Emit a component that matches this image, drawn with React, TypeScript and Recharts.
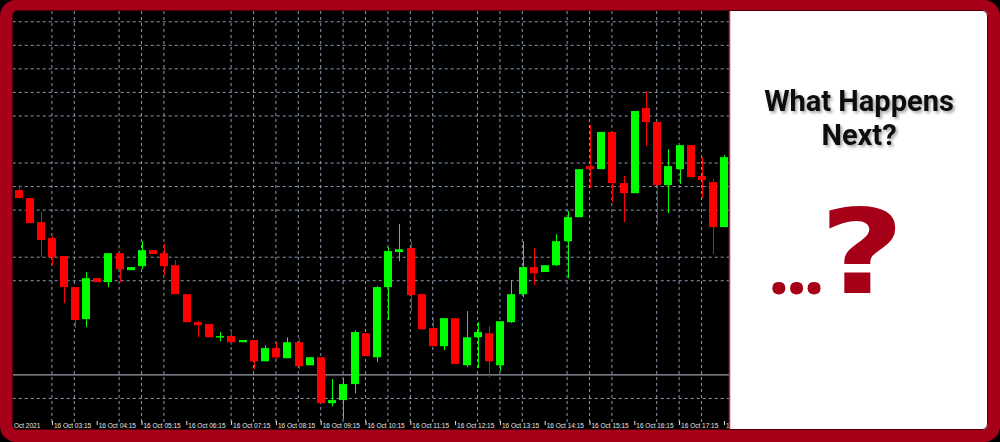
import React from 'react';
import { ComposedChart, Bar, XAxis, YAxis, ReferenceLine } from 'recharts';

const times = [
  '02:30','02:45','03:00','03:15','03:30','03:45','04:00','04:15','04:30','04:45',
  '05:00','05:15','05:30','05:45','06:00','06:15','06:30','06:45','07:00','07:15',
  '07:30','07:45','08:00','08:15','08:30','08:45','09:00','09:15','09:30','09:45',
  '10:00','10:15','10:30','10:45','11:00','11:15','11:30','11:45','12:00','12:15',
  '12:30','12:45','13:00','13:15','13:30','13:45','14:00','14:15','14:30','14:45',
  '15:00','15:15','15:30','15:45','16:00','16:15','16:30','16:45','17:00','17:15',
  '17:30','17:45','18:00','18:15',
];

const openPrices = [
  61885,61851,61749,61681,61605,61473,61337,61511,61494,61617,
  61545,61562,61630,61617,61566,61443,61324,61316,61262,61265,
  61239,61248,61158,61214,61171,61239,61141,61175,60980,60993,
  61061,61277,61175,61473,61622,61639,61443,61299,61222,61341,
  61141,61260,61277,61141,61324,61443,61558,61537,61566,61668,
  61770,61987,61974,62132,61915,61872,62234,62174,61906,61974,
  62076,61945,61919,61728,
];
const highPrices = [
  61906,61851,61792,61690,61605,61473,61537,61511,61617,61617,
  61558,61668,61630,61656,61588,61443,61328,61316,61282,61294,
  61248,61248,61226,61239,61260,61256,61175,61175,61082,61086,
  61290,61277,61477,61643,61741,61668,61443,61341,61341,61341,
  61371,61324,61307,61328,61503,61668,61639,61566,61698,61796,
  61974,62161,62132,62132,61945,62221,62306,62174,62059,62076,
  62076,62025,61932,62034,
];
const lowPrices = [
  61851,61745,61600,61566,61405,61299,61303,61494,61473,61494,
  61545,61549,61613,61524,61443,61324,61260,61260,61243,61226,
  61239,61124,61158,61167,61171,61124,61141,60980,60967,60912,
  61022,61180,61154,61333,61583,61371,61294,61222,61205,61146,
  61133,61129,61090,61116,61320,61430,61481,61537,61562,61511,
  61770,61894,61974,61834,61749,61872,62072,61732,61787,61911,
  61940,61851,61613,61728,
];
const closePrices = [
  61851,61745,61673,61600,61473,61333,61511,61494,61617,61549,
  61558,61630,61613,61562,61443,61324,61311,61260,61265,61239,
  61248,61158,61214,61175,61239,61137,61175,60980,60993,61061,
  61282,61180,61473,61626,61634,61439,61294,61222,61341,61146,
  61260,61282,61158,61328,61443,61558,61532,61566,61668,61770,
  61974,61974,62132,61915,61872,62221,62174,61906,61987,62076,
  61940,61928,61728,62025,
];

// x-axis labels (time -> text)
const firstLabelTime = '02:30';
const firstLabelText = '16 Oct 2021';
const labelTimes = [
  '03:15','04:15','05:15','06:15','07:15','08:15','09:15','10:15',
  '11:15','12:15','13:15','14:15','15:15','16:15','17:15','18:15',
];
const labelDay = '16 Oct';

// grid levels
const priceGridLevels = [62600, 62500, 62400, 62300, 62200, 62000, 61900, 61800, 61600, 61500, 61000];
const timeGridTimes = [
  '03:15','03:45','04:45','05:15','05:45','07:15','07:45','08:15','08:45','09:15',
  '09:45','10:15','10:45','11:15','11:45','12:45','13:15','13:45','14:45','15:15',
  '15:45','16:45','17:15','17:45',
];
const supportLevel = 61100;
const yDomain = [60900, 62650];

const titleLines = ['What Happens', 'Next?'];
const dotsText = '...';
const questionText = '?';

const data = times.map((t, i) => ({
  time: t,
  open: openPrices[i],
  high: highPrices[i],
  low: lowPrices[i],
  close: closePrices[i],
}));

const UP = '#00ff00';
const DOWN = '#ff0000';
const GRID = '#8a9bb0';
const FRAME = '#a50018';

const Candle = (props: any) => {
  const { x, y, width, height, payload } = props;
  if (!payload) return null;
  const { open, close, high, low } = payload;
  const top = Math.min(y, y + height);
  const h = Math.abs(height);
  const pix = (v: number) => (high === low ? top : top + ((high - v) / (high - low)) * h);
  const up = close >= open;
  const color = up ? UP : DOWN;
  const bx = Math.round(x);
  const bw = Math.round(width);
  const cx = bx + Math.floor(bw / 2) + 0.5;
  const bTop = pix(Math.max(open, close));
  const bBot = pix(Math.min(open, close));
  return (
    <g>
      <line x1={cx} x2={cx} y1={top} y2={top + h} stroke={color} strokeWidth={1} />
      <rect x={bx} y={bTop} width={bw} height={Math.max(bBot - bTop, 1.5)} fill={color} />
    </g>
  );
};

const TimeTick = (props: any) => {
  const { x, y, payload } = props;
  const v = payload?.value;
  if (v === firstLabelTime) {
    return (
      <text x={x + 22} y={y + 6} textAnchor="end" fontSize={6.5} fill="#e8e8e8"
        fontFamily="'Liberation Sans', Arial, sans-serif">{firstLabelText}</text>
    );
  }
  if (!labelTimes.includes(v)) return null;
  return (
    <g>
      <line x1={x + 0.5} x2={x + 0.5} y1={y - 1} y2={y + 3} stroke="#e8e8e8" strokeWidth={1} />
      <text x={x + 2} y={y + 6} textAnchor="start" fontSize={6.5} fill="#e8e8e8"
        fontFamily="'Liberation Sans', Arial, sans-serif">{`${labelDay} ${v}`}</text>
    </g>
  );
};

export default function App() {
  return (
    <div style={{ position: 'absolute', left: 0, top: 0, width: 1000, height: 442, background: '#000', overflow: 'hidden' }}>
      <ComposedChart
        width={1000}
        height={442}
        data={data}
        margin={{ top: 10, right: 270.5, bottom: 8, left: 12.7 }}
      >
        <XAxis
          dataKey="time"
          interval={0}
          tickLine={false}
          axisLine={false}
          height={12}
          tickSize={0}
          tickMargin={0}
          tick={<TimeTick />}
        />
        <YAxis hide width={0} domain={yDomain} allowDataOverflow type="number" />
        {priceGridLevels.map((v) => (
          <ReferenceLine key={`h${v}`} y={v} stroke={GRID} strokeDasharray="3 3" strokeWidth={1} zIndex={-50} />
        ))}
        {timeGridTimes.map((t) => (
          <ReferenceLine key={`v${t}`} x={t} stroke={GRID} strokeDasharray="3 3" strokeWidth={1} zIndex={-50} />
        ))}
        <ReferenceLine y={supportLevel} stroke="#9aa0a8" strokeWidth={1.2} zIndex={-40} />
        <Bar
          dataKey={(d: any) => [d.low, d.high]}
          barSize={8}
          shape={<Candle />}
          isAnimationActive={false}
        />
      </ComposedChart>
      <svg width={1000} height={442} style={{ position: 'absolute', left: 0, top: 0, pointerEvents: 'none' }}>
        <defs>
          <filter id="tshadow" x="-10%" y="-30%" width="130%" height="180%">
            <feDropShadow dx="2" dy="2" stdDeviation="1.4" floodColor="#000" floodOpacity="0.35" />
          </filter>
        </defs>
        <rect x={729} y={10} width={259} height={420} fill="#ffffff" />
        <line x1={729.5} x2={729.5} y1={10} y2={430} stroke="#b8283a" strokeWidth={1.5} />
        <path
          fillRule="evenodd"
          fill={FRAME}
          d="M16 0 H984 A16 16 0 0 1 1000 16 V426 A16 16 0 0 1 984 442 H16 A16 16 0 0 1 0 426 V16 A16 16 0 0 1 16 0 Z
             M18 10 H982 A6 6 0 0 1 988 16 V424 A6 6 0 0 1 982 430 H18 A6 6 0 0 1 12 424 V16 A6 6 0 0 1 18 10 Z"
        />
        <path
          fill="none"
          stroke="#4a0008"
          strokeWidth={1}
          d="M18 10.5 H982 A5.5 5.5 0 0 1 987.5 16 V424 A5.5 5.5 0 0 1 982 429.5 H18 A5.5 5.5 0 0 1 12.5 424 V16 A5.5 5.5 0 0 1 18 10.5 Z"
        />
        <text x={859} y={111} textAnchor="middle" fontFamily="Roboto, sans-serif" fontWeight={700}
          fontSize={29} fill="#111" filter="url(#tshadow)">{titleLines[0]}</text>
        <text x={859} y={145} textAnchor="middle" fontFamily="Roboto, sans-serif" fontWeight={700}
          fontSize={29} fill="#111" filter="url(#tshadow)">{titleLines[1]}</text>
        <text x={768} y={294} fontFamily="'Open Sans', sans-serif" fontWeight={700} fontSize={76}
          letterSpacing={-4} fill={FRAME}>{dotsText}</text>
        <g transform="translate(862 0) scale(1.25 1) translate(-862 0)">
          <text x={862} y={293} textAnchor="middle" fontFamily="'DejaVu Sans', sans-serif" fontWeight={700}
            fontSize={118} fill={FRAME}>{questionText}</text>
        </g>
      </svg>
    </div>
  );
}
